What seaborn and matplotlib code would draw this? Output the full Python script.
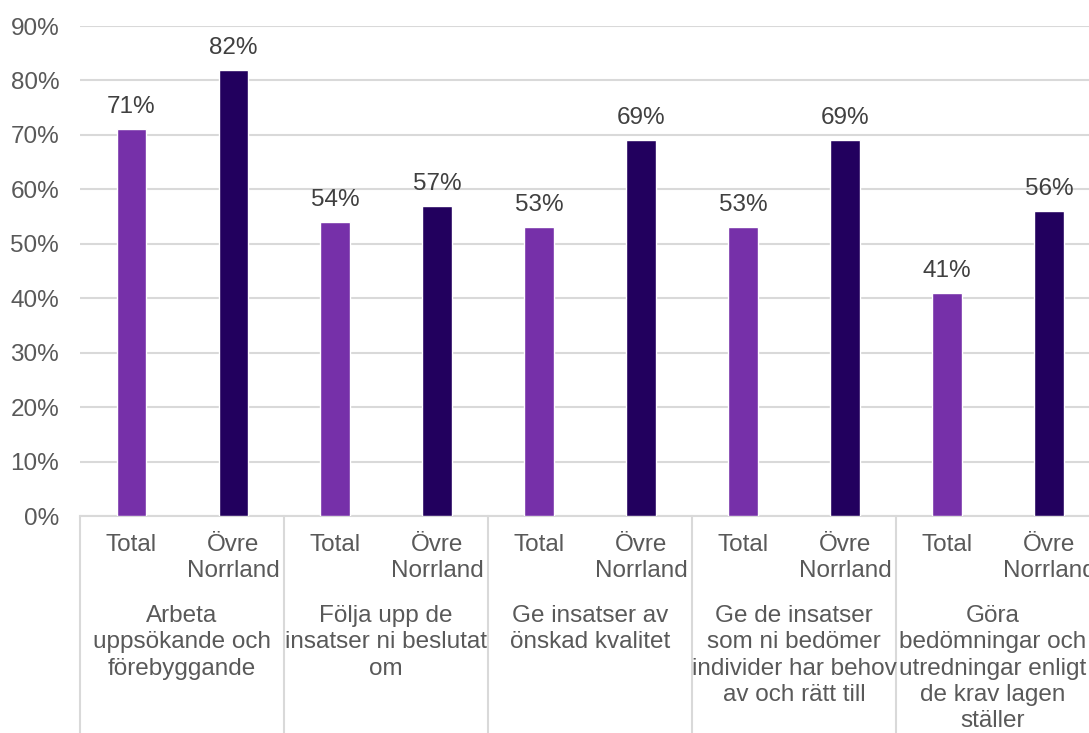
import seaborn as sns
import pandas as pd
import matplotlib.pyplot as plt
import matplotlib.transforms as mtransforms

# data
groups = [
    "Arbeta\nuppsökande och\nförebyggande",
    "Följa upp de\ninsatser ni beslutat\nom",
    "Ge insatser av\nönskad kvalitet",
    "Ge de insatser\nsom ni bedömer\nindivider har behov\nav och rätt till",
    "Göra\nbedömningar och\nutredningar enligt\nde krav lagen\nställer",
]
series = ["Total", "Övre Norrland"]
series_ticklabels = ["Total", "Övre\nNorrland"]
total_vals = [71, 54, 53, 53, 41]
ovre_vals = [82, 57, 69, 69, 56]
colors = ["#7630A9", "#22005E"]

rows = []
for i, g in enumerate(groups):
    rows.append({"key": f"{i}-Total", "serie": series[0], "value": total_vals[i]})
    rows.append({"key": f"{i}-Ovre", "serie": series[1], "value": ovre_vals[i]})
df = pd.DataFrame(rows)

sns.set_style("white")
plt.rcParams["font.family"] = ["Liberation Sans", "DejaVu Sans"]
fs = 17.5

fig = plt.figure(figsize=(10.89, 7.33), dpi=100)
ax = fig.add_axes([0.0735, 0.296, 0.9366, 0.6685])

sns.barplot(data=df, x="key", y="value", hue="serie", palette=colors,
            saturation=1, dodge=False, width=0.285, legend=False, ax=ax, zorder=3)

# data labels
for cont in ax.containers:
    for bar in cont:
        h = bar.get_height()
        if pd.isna(h):
            continue
        ax.annotate(f"{h:.0f}%", (bar.get_x() + bar.get_width() / 2, h),
                    xytext=(0, 11.5), textcoords="offset points",
                    ha="center", va="baseline", fontsize=fs, color="#404040")

ax.set_ylim(0, 90)
ax.set_xlim(-0.5, 9.5)
ax.set_yticks(range(0, 91, 10))
ax.set_yticklabels([f"{v}%" for v in range(0, 91, 10)], fontsize=fs, color="#595959")
ax.set_xticks(range(10))
ax.set_xticklabels(series_ticklabels * len(groups), fontsize=fs, color="#595959",
                   linespacing=1.25)
ax.tick_params(axis="x", length=0, pad=13)
ax.tick_params(axis="y", length=0, pad=15)
ax.set_xlabel("")
ax.set_ylabel("")

ax.yaxis.grid(True, color="#d9d9d9", linewidth=1.5, zorder=0)
ax.set_axisbelow(True)
for s in ["top", "right", "left"]:
    ax.spines[s].set_visible(False)
ax.spines["bottom"].set_color("#d9d9d9")
ax.spines["bottom"].set_linewidth(1.5)

# group labels and separators
trans = mtransforms.blended_transform_factory(ax.transData, ax.transAxes)
for i, g in enumerate(groups):
    gx = 2 * i + 0.5 if i < len(groups) - 1 else 2 * i + 0.45
    ax.text(gx, -0.182, g, transform=trans, ha="center", va="top",
            fontsize=fs, color="#595959", linespacing=1.25)
    ax.plot([2 * i - 0.5, 2 * i - 0.5], [0, -0.5], transform=trans,
            color="#d9d9d9", linewidth=1.5, clip_on=False)

plt.savefig("out.png", dpi=100, facecolor="w")
